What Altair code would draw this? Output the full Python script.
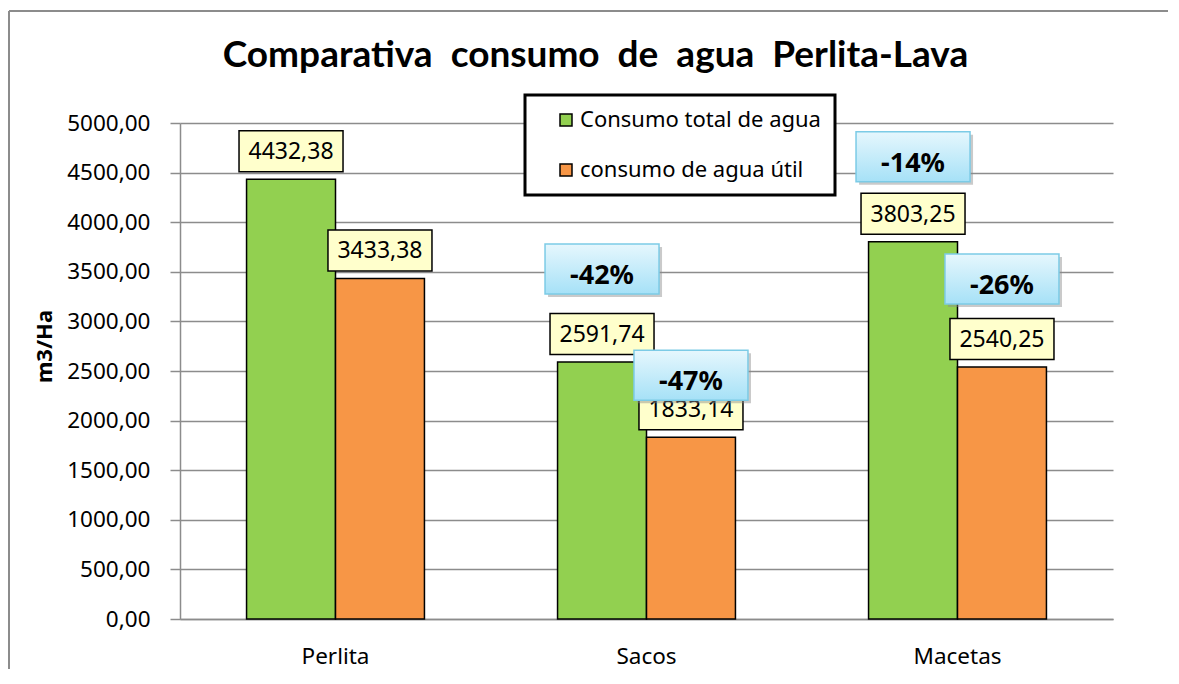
import altair as alt
import pandas as pd

# ---------------- data ----------------
categories = ["Perlita", "Sacos", "Macetas"]
series = ["Consumo total de agua", "consumo de agua útil"]
total_agua = [4432.38, 2591.74, 3803.25]
util_agua = [3433.38, 1833.14, 2540.25]
pct_total = ["", "-42%", "-14%"]
pct_util = ["", "-47%", "-26%"]
colors = ["#92D050", "#F79646"]
title_text = "Comparativa\u00a0 consumo\u00a0 de\u00a0 agua\u00a0 Perlita-Lava"

# ---------------- layout constants ----------------
W, H = 933, 496
YMAX = 5000
K = YMAX / H  # data units per pixel
LABEL_LIFT_PX = 28
PCT_LIFT_PX = {("Sacos", series[0]): 93, ("Sacos", series[1]): 62,
               ("Macetas", series[0]): 85, ("Macetas", series[1]): 88}

rows = []
for i, c in enumerate(categories):
    for s, vals, pcts in ((series[0], total_agua, pct_total), (series[1], util_agua, pct_util)):
        v = vals[i]
        rows.append({
            "cat": c, "serie": s, "value": v,
            "label": f"{v:.2f}".replace(".", ","),
            "label_y": v + LABEL_LIFT_PX * K,
            "pct": pcts[i],
            "pct_y": v + PCT_LIFT_PX.get((c, s), 0) * K,
        })
df = pd.DataFrame(rows)
pct_df = df[df["pct"] != ""]

FONT = "Noto Sans"

x_enc = alt.X("cat:N", sort=categories,
              scale=alt.Scale(paddingInner=0.428, paddingOuter=0.214),
              axis=alt.Axis(title=None, labelAngle=0, ticks=False, domainColor="#8C8C8C",
                            domainWidth=1.5, labelFont=FONT, labelFontSize=22.5,
                            labelColor="black", labelPadding=26))
xo_enc = alt.XOffset("serie:N", sort=series, scale=alt.Scale(domain=series, paddingInner=0))
y_scale = alt.Scale(domain=[0, YMAX], nice=False)
y_axis = alt.Axis(title="m3/Ha", values=list(range(0, YMAX + 1, 500)),
                  labelExpr="replace(format(datum.value, '.2f'), '.', ',')",
                  grid=True, gridColor="#8C8C8C", gridWidth=1.5,
                  domainColor="#8C8C8C", domainWidth=1.5,
                  tickColor="#8C8C8C", tickWidth=1.5, tickSize=10,
                  labelPadding=20, labelFont=FONT, labelFontSize=22.5,
                  labelColor="black", titleFont=FONT, titleFontWeight="bold",
                  titleFontSize=22, titleColor="black", titleX=-136, titleY=223,
                  titleAngle=-90, titleAlign="center", titleBaseline="middle")


def Y(field):
    return alt.Y(field, type="quantitative", scale=y_scale, axis=y_axis, title="m3/Ha")


bars = alt.Chart(df).mark_bar(stroke="black", strokeWidth=1.5).encode(
    x=x_enc,
    xOffset=xo_enc,
    y=Y("value"),
    color=alt.Color("serie:N", sort=series,
                    scale=alt.Scale(domain=series, range=colors),
                    legend=alt.Legend(title=None)),
)

label_shape = "M-1,-0.394L1,-0.394L1,0.394L-1,0.394Z"
label_boxes = alt.Chart(df).mark_point(
    shape=label_shape, filled=True, fill="#FFFFCC", stroke="black", strokeWidth=1.5,
    size=104 * 104, opacity=1, fillOpacity=1
).encode(x=x_enc, xOffset=xo_enc, y=Y("label_y"))

label_text = alt.Chart(df).mark_text(
    font=FONT, fontSize=23, color="black", align="center", baseline="middle", dy=1
).encode(x=x_enc, xOffset=xo_enc, y=Y("label_y"), text="label:N")

pct_shape = "M-1,-0.439L1,-0.439L1,0.439L-1,0.439Z"
shadow_shape = "M-0.947,-0.386L1.053,-0.386L1.053,0.492L-0.947,0.492Z"
pct_shadow = alt.Chart(pct_df).mark_point(
    shape=shadow_shape, filled=True, fill="#8a8a8a", strokeWidth=0,
    size=114 * 114, opacity=0.45
).encode(x=x_enc, xOffset=xo_enc, y=Y("pct_y"))

pct_boxes = alt.Chart(pct_df).mark_point(
    shape=pct_shape, filled=True,
    fill=alt.Gradient(gradient="linear",
                      stops=[alt.GradientStop(color="#E6F7FD", offset=0),
                             alt.GradientStop(color="#A6E1F7", offset=1)],
                      x1=0, x2=0, y1=0, y2=1),
    stroke="#7CCBE6", strokeWidth=1.5, size=114 * 114, opacity=1, fillOpacity=1
).encode(x=x_enc, xOffset=xo_enc, y=Y("pct_y"))

pct_text = alt.Chart(pct_df).mark_text(
    font=FONT, fontSize=27, fontWeight="bold", color="black", align="center",
    baseline="middle", dy=7
).encode(x=x_enc, xOffset=xo_enc, y=Y("pct_y"), text="pct:N")

# outer chart-area frame (decoration)
frame_left = alt.Chart(df).mark_rule(color="#8C8C8C", strokeWidth=2).encode(
    x=alt.value(-171), y=alt.value(-112), y2=alt.value(H + 60))
frame_top = alt.Chart(df).mark_rule(color="#8C8C8C", strokeWidth=2).encode(
    x=alt.value(-171), x2=alt.value(W + 60), y=alt.value(-112))

chart = alt.layer(
    frame_left, frame_top, bars, label_boxes, label_text, pct_shadow, pct_boxes, pct_text
).properties(
    width=W, height=H,
    title=alt.TitleParams(title_text, font="Lato", fontSize=37, fontWeight="bold",
                          color="black", anchor="middle", frame="group", dx=-51,
                          offset=-65),
    autosize=alt.AutoSizeParams(type="none"),
    padding={"left": 172, "top": 115, "right": 55, "bottom": 50},
    background="white",
).configure_view(stroke=None).configure_legend(
    orient="none", legendX=345, legendY=-28, padding=14, symbolOffset=16,
    strokeColor="black", strokeWidth=3, fillColor="white",
    labelFont=FONT, labelFontSize=22, labelColor="black", labelOffset=3,
    labelLimit=400,
    symbolType="square", symbolSize=144, symbolStrokeColor="black",
    symbolStrokeWidth=1.5, rowPadding=28,
)

chart.save("out.html", embed_options={"renderer": "svg", "actions": False})
